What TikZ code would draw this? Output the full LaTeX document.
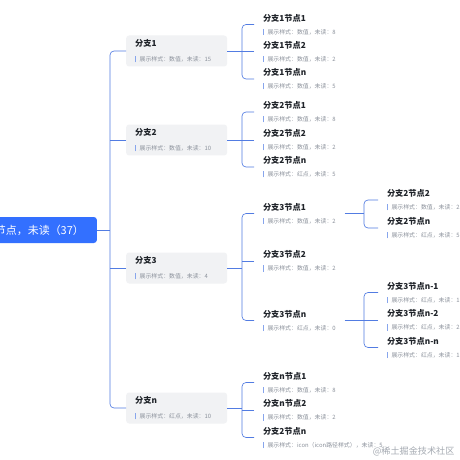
\documentclass[tikz,border=0pt]{standalone}
\usepackage{fontspec}
\setmainfont{Noto Sans CJK SC}
\usetikzlibrary{positioning, calc}
\definecolor{RootBlue}{RGB}{51,112,255}
\definecolor{LineBlue}{RGB}{82,124,226}
\definecolor{BoxGray}{RGB}{241,242,244}
\definecolor{TitleDark}{RGB}{31,35,41}
\definecolor{SubGray}{RGB}{140,146,156}
\definecolor{BarBlue}{RGB}{135,165,236}
\definecolor{MarkGray}{RGB}{165,170,178}
\newcommand{\subbar}{\textcolor{BarBlue}{\rule[-0.3ex]{0.9pt}{2.0ex}}\hspace{5.5pt}}
\newcommand{\ttl}[1]{{\fontsize{11.7pt}{14pt}\selectfont\bfseries\color{TitleDark}#1}}
\newcommand{\sbt}[1]{{\fontsize{8.4pt}{10pt}\selectfont\color{SubGray}\subbar#1}}
\newcommand{\leafnode}[4]{\node[leaf] (#1) at #2 {\ttl{#3}\\\sbt{#4}};}

\begin{document}
\begin{tikzpicture}[x=0.05cm, y=-0.05cm,
    conn/.style={draw=LineBlue, line width=0.9pt, rounded corners=0.2cm},
    root/.style={fill=RootBlue, text=white, rounded corners=0.15cm, anchor=east,
      minimum height=1.3cm, inner xsep=0.65cm, font=\fontsize{15.6pt}{18pt}\selectfont},
    branch/.style={fill=BoxGray, rounded corners=0.15cm, anchor=west, minimum width=5.05cm,
      minimum height=1.55cm, text width=4.15cm, align=left, inner xsep=0.45cm,
      font=\fontsize{8.4pt}{21pt}\selectfont},
    leaf/.style={anchor=west, align=left, inner sep=0pt, outer xsep=0.45cm,
      font=\fontsize{8.4pt}{18.5pt}\selectfont}]
  \useasboundingbox (0,0) rectangle (460,460);
  \fill[white] (0,0) rectangle (460,460);
  \clip (0,0) rectangle (460,460);

  \node[root] (root) at (97,230) {节点，未读（37）};
  \coordinate (rj) at (110,230);
  \node[branch] (b1) at (126,51) {\ttl{分支1}\\\sbt{展示样式：数值，未读：15}};
  \node[branch] (b2) at (126,140) {\ttl{分支2}\\\sbt{展示样式：数值，未读：10}};
  \node[branch] (b3) at (126,268) {\ttl{分支3}\\\sbt{展示样式：数值，未读：4}};
  \node[branch] (bn) at (126,408) {\ttl{分支n}\\\sbt{展示样式：红点，未读：10}};

  \leafnode{c11}{(254,24.5)}{分支1节点1}{展示样式：数值，未读：8}
  \leafnode{c12}{(254,51.5)}{分支1节点2}{展示样式：数值，未读：2}
  \leafnode{c13}{(254,79)}{分支1节点n}{展示样式：数值，未读：5}
  \leafnode{c21}{(254,112)}{分支2节点1}{展示样式：数值，未读：8}
  \leafnode{c22}{(254,140)}{分支2节点2}{展示样式：数值，未读：2}
  \leafnode{c23}{(254,167)}{分支2节点n}{展示样式：红点，未读：5}
  \leafnode{c31}{(254,213.5)}{分支3节点1}{展示样式：数值，未读：2}
  \leafnode{c32}{(254,261)}{分支3节点2}{展示样式：数值，未读：2}
  \leafnode{c33}{(254,320.5)}{分支3节点n}{展示样式：红点，未读：0}
  \leafnode{cn1}{(254,382.5)}{分支n节点1}{展示样式：数值，未读：8}
  \leafnode{cn2}{(254,410)}{分支n节点2}{展示样式：数值，未读：2}
  \leafnode{cn3}{(254,437.5)}{分支2节点n}{展示样式：icon（icon路径样式），未读：5}

  \leafnode{d1}{(378,200)}{分支2节点2}{展示样式：数值，未读：2}
  \leafnode{d2}{(378,228)}{分支2节点n}{展示样式：红点，未读：5}
  \leafnode{e1}{(378,292.5)}{分支3节点n-1}{展示样式：红点，未读：1}
  \leafnode{e2}{(378,320)}{分支3节点n-2}{展示样式：红点，未读：2}
  \leafnode{e3}{(378,347.5)}{分支3节点n-n}{展示样式：红点，未读：1}

  \coordinate (b1j) at (242,51);
  \coordinate (b2j) at (242,140);
  \coordinate (b3j) at (242,268);
  \coordinate (bnj) at (242,408);
  \coordinate (c31j) at (364,214);
  \coordinate (c33j) at (364,320);

  \draw[conn] (root.east) -- (rj);
  \draw[conn] (b1.west) -| (rj) |- (bn.west);
  \draw[conn] (b2.west) -- (b2.west -| rj);
  \draw[conn] (b3.west) -- (b3.west -| rj);

  \draw[conn] (b1.east) -- (b1j);
  \draw[conn] (c11.west) -| (b1j) |- (c13.west);
  \draw[conn] (c12.west) -- (c12.west -| b1j);
  \draw[conn] (b2.east) -- (b2j);
  \draw[conn] (c21.west) -| (b2j) |- (c23.west);
  \draw[conn] (c22.west) -- (c22.west -| b2j);
  \draw[conn] (b3.east) -- (b3j);
  \draw[conn] (c31.west) -| (b3j) |- (c33.west);
  \draw[conn] (c32.west) -- (c32.west -| b3j);
  \draw[conn] (bn.east) -- (bnj);
  \draw[conn] (cn1.west) -| (bnj) |- (cn3.west);
  \draw[conn] (cn2.west) -- (cn2.west -| bnj);

  \draw[conn] (c31.east) -- (c31.east -| c31j);
  \draw[conn] (d1.west) -| (c31j) |- (d2.west);
  \draw[conn] (c33.east) -- (c33.east -| c33j);
  \draw[conn] (e1.west) -| (c33j) |- (e3.west);
  \draw[conn] (e2.west) -- (e2.west -| c33j);

  \node[text=MarkGray, anchor=east, font=\fontsize{13pt}{15pt}\selectfont] (mark) at (457,451) {@稀土掘金技术社区};
\end{tikzpicture}
\end{document}
